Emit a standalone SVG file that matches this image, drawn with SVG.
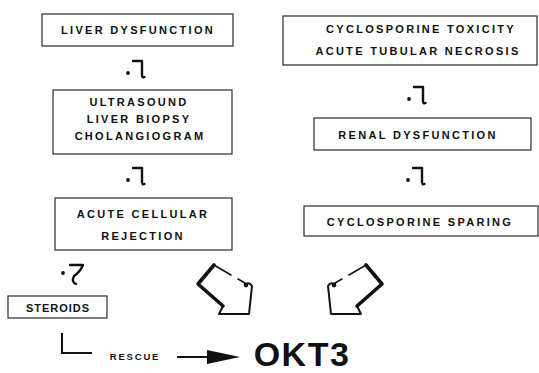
<svg xmlns="http://www.w3.org/2000/svg" width="539" height="373" viewBox="0 0 539 373">
<style>
.box{fill:#fff;stroke:#2a2a2a;stroke-width:1.2}
.t{font-family:"Liberation Sans",Arial,sans-serif;font-weight:bold;font-size:11px;fill:#111;text-anchor:middle;letter-spacing:2.3px}
.hook{fill:none;stroke:#111;stroke-width:2.4;stroke-linecap:round;stroke-linejoin:round}
.line{fill:none;stroke:#111;stroke-width:2}
.big{fill:none;stroke:#111;stroke-linejoin:round;stroke-linecap:round}
</style>
<defs>
<g id="conn">
<circle cx="0" cy="12" r="1.9" fill="#111"/>
<path class="hook" d="M5,0 H14 V14 Q14,17 16.5,16"/>
</g>
<g id="blockarrow">
<path class="big" stroke-width="3.6" d="M223,306 L198,284 L214,265"/>
<path class="big" stroke-width="1.5" d="M214,265 L231,275 M238,279 L245,283"/>
<path class="big" stroke-width="2" d="M245,285 Q249,281 252,286 L249,314 L219,314 L223,306"/>
<circle cx="246" cy="285" r="2.4" fill="#111"/>
</g>
</defs>
<rect width="539" height="373" fill="#fff"/>

<g id="liver-dysfunction">
<rect class="box" x="42" y="14" width="191" height="32"/>
<text class="t" x="138" y="34">LIVER DYSFUNCTION</text>
</g>
<g id="diagnostics">
<rect class="box" x="53" y="90" width="179" height="64"/>
<text class="t" x="139" y="106">ULTRASOUND</text>
<text class="t" x="139" y="123">LIVER BIOPSY</text>
<text class="t" x="140" y="140">CHOLANGIOGRAM</text>
</g>
<g id="acute-rejection">
<rect class="box" x="55" y="198" width="177" height="52"/>
<text class="t" x="143" y="218">ACUTE CELLULAR</text>
<text class="t" x="143" y="240">REJECTION</text>
</g>
<g id="steroids">
<rect class="box" x="8" y="296" width="99" height="22"/>
<text class="t" x="58" y="312" style="letter-spacing:1px">STEROIDS</text>
</g>
<g id="cyclosporine-toxicity">
<rect class="box" x="283" y="16" width="254" height="49"/>
<text class="t" x="421" y="33">CYCLOSPORINE TOXICITY</text>
<text class="t" x="418" y="55">ACUTE TUBULAR NECROSIS</text>
</g>
<g id="renal-dysfunction">
<rect class="box" x="314" y="118" width="217" height="32"/>
<text class="t" x="418" y="139">RENAL DYSFUNCTION</text>
</g>
<g id="cyclosporine-sparing">
<rect class="box" x="304" y="206" width="234" height="30"/>
<text class="t" x="420" y="226">CYCLOSPORINE SPARING</text>
</g>
<g id="okt3">
<text x="302" y="366" style="font-family:'Liberation Sans',Arial,sans-serif;font-weight:bold;font-size:34px;fill:#111;text-anchor:middle;letter-spacing:1.5px">OKT3</text>
</g>

<g id="connectors">
<use href="#conn" x="128" y="61"/>
<use href="#conn" x="128" y="168"/>
<use href="#conn" x="409" y="87"/>
<use href="#conn" x="408" y="168"/>
<circle cx="63" cy="273" r="1.9" fill="#111"/>
<path class="hook" d="M70,265 H83 Q80,272 74,276 Q71,282 76,284"/>
<path class="line" d="M62,333 V353 H92"/>
<text x="135" y="360" style="font-family:'Liberation Sans',Arial,sans-serif;font-weight:bold;font-size:9.5px;fill:#111;text-anchor:middle;letter-spacing:1.8px">RESCUE</text>
<path class="line" d="M177,357 H210"/>
<polygon points="207,350 240,357 207,364" fill="#111"/>
<use href="#blockarrow"/>
<use href="#blockarrow" transform="translate(580,0) scale(-1,1)"/>
</g>
</svg>
